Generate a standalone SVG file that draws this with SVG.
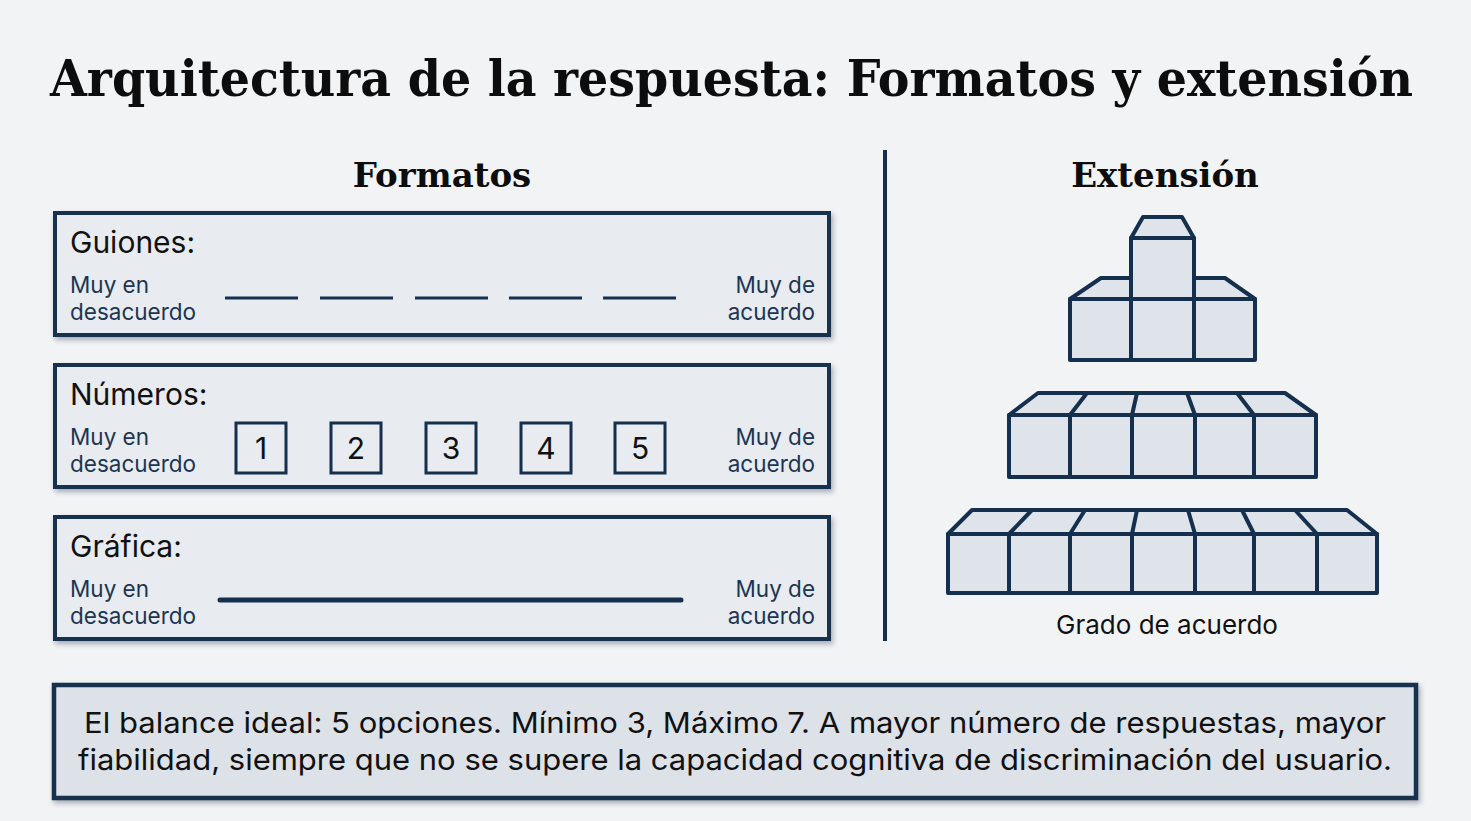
<svg xmlns="http://www.w3.org/2000/svg" width="1471" height="821" viewBox="0 0 1471 821">
<defs>
<filter id="sh" x="-5%" y="-10%" width="110%" height="130%">
<feDropShadow dx="2" dy="3" stdDeviation="2.5" flood-color="#1b2a3d" flood-opacity="0.35"/>
</filter>
<style>
.box{fill:#e8ebef;stroke:#15304f;stroke-width:4;filter:url(#sh)}
.note{fill:#dde1e8;stroke:#15304f;stroke-width:4.5;filter:url(#sh)}
.h{font-family:"DejaVu Serif","Liberation Serif",serif;font-weight:bold;fill:#0d0d0d}
.lbl{font-family:Inter,"Liberation Sans",sans-serif;font-size:30px;fill:#111}
.sm{font-family:Inter,"Liberation Sans",sans-serif;font-size:22.5px;fill:#1c3553}
.num{font-family:Inter,"Liberation Sans",sans-serif;font-size:30px;fill:#111;text-anchor:middle}
.nb{fill:none;stroke:#15304f;stroke-width:3}
.dash{stroke:#15304f;stroke-width:3}
.cube{fill:#dfe3ea;stroke:#15304f;stroke-width:4;stroke-linejoin:round}
.txt{font-family:Inter,"Liberation Sans",sans-serif;font-size:29px;fill:#111;text-anchor:middle}
</style>
</defs>
<rect width="1471" height="821" fill="#f2f3f5"/>
<text class="h" transform="translate(50,96) scale(1,1.18)" x="0" y="0" font-size="43" textLength="1363" lengthAdjust="spacingAndGlyphs">Arquitectura de la respuesta: Formatos y extensión</text>
<text class="h" x="442" y="187" font-size="34" text-anchor="middle">Formatos</text>
<text class="h" x="1165" y="187" font-size="34" text-anchor="middle">Extensión</text>
<line x1="885" y1="150" x2="885" y2="641" stroke="#15304f" stroke-width="4"/>

<g id="guiones">
<rect class="box" x="55" y="213" width="774" height="122"/>
<text class="lbl" x="70" y="253">Guiones:</text>
<text class="sm" x="70" y="293">Muy en</text>
<text class="sm" x="70" y="320">desacuerdo</text>
<text class="sm" x="815" y="293" text-anchor="end">Muy de</text>
<text class="sm" x="815" y="320" text-anchor="end">acuerdo</text>
<line class="dash" x1="225" y1="298" x2="298" y2="298"/>
<line class="dash" x1="320" y1="298" x2="393" y2="298"/>
<line class="dash" x1="415" y1="298" x2="488" y2="298"/>
<line class="dash" x1="509" y1="298" x2="582" y2="298"/>
<line class="dash" x1="603" y1="298" x2="676" y2="298"/>
</g>

<g id="numeros">
<rect class="box" x="55" y="365" width="774" height="122"/>
<text class="lbl" x="70" y="405">Números:</text>
<text class="sm" x="70" y="445">Muy en</text>
<text class="sm" x="70" y="472">desacuerdo</text>
<text class="sm" x="815" y="445" text-anchor="end">Muy de</text>
<text class="sm" x="815" y="472" text-anchor="end">acuerdo</text>
<rect class="nb" x="236" y="423" width="50" height="50"/>
<rect class="nb" x="331" y="423" width="50" height="50"/>
<rect class="nb" x="426" y="423" width="50" height="50"/>
<rect class="nb" x="521" y="423" width="50" height="50"/>
<rect class="nb" x="615" y="423" width="50" height="50"/>
<text class="num" x="261" y="459">1</text>
<text class="num" x="356" y="459">2</text>
<text class="num" x="451" y="459">3</text>
<text class="num" x="546" y="459">4</text>
<text class="num" x="640" y="459">5</text>
</g>

<g id="grafica">
<rect class="box" x="55" y="517" width="774" height="122"/>
<text class="lbl" x="70" y="557">Gráfica:</text>
<text class="sm" x="70" y="597">Muy en</text>
<text class="sm" x="70" y="624">desacuerdo</text>
<text class="sm" x="815" y="597" text-anchor="end">Muy de</text>
<text class="sm" x="815" y="624" text-anchor="end">acuerdo</text>
<line x1="220" y1="600" x2="681" y2="600" stroke="#15304f" stroke-width="5" stroke-linecap="round"/>
</g>

<g id="piramide">
<polygon class="cube" points="1131,238 1143,217 1182,217 1194,238"/>
<rect class="cube" x="1131" y="238" width="63" height="61"/>
<polygon class="cube" points="1070,299 1101,278 1131,278 1131,299"/>
<polygon class="cube" points="1194,299 1194,278 1225,278 1255,299"/>
<rect class="cube" x="1070" y="299" width="61" height="61"/>
<rect class="cube" x="1131" y="299" width="63" height="61"/>
<rect class="cube" x="1194" y="299" width="61" height="61"/>
<polygon class="cube" points="1009,415 1038,393 1285,393 1316,415"/>
<line class="cube" x1="1070" y1="415" x2="1087" y2="393"/>
<line class="cube" x1="1132" y1="415" x2="1137" y2="393"/>
<line class="cube" x1="1195" y1="415" x2="1187" y2="393"/>
<line class="cube" x1="1254" y1="415" x2="1237" y2="393"/>
<rect class="cube" x="1009" y="415" width="307" height="62"/>
<line class="cube" x1="1070" y1="415" x2="1070" y2="477"/>
<line class="cube" x1="1132" y1="415" x2="1132" y2="477"/>
<line class="cube" x1="1195" y1="415" x2="1195" y2="477"/>
<line class="cube" x1="1254" y1="415" x2="1254" y2="477"/>
<polygon class="cube" points="948,534 972,510 1347,510 1377,534"/>
<line class="cube" x1="1009" y1="534" x2="1032" y2="510"/>
<line class="cube" x1="1070" y1="534" x2="1085" y2="510"/>
<line class="cube" x1="1132" y1="534" x2="1137" y2="510"/>
<line class="cube" x1="1195" y1="534" x2="1188" y2="510"/>
<line class="cube" x1="1254" y1="534" x2="1242" y2="510"/>
<line class="cube" x1="1317" y1="534" x2="1295" y2="510"/>
<rect class="cube" x="948" y="534" width="429" height="59"/>
<line class="cube" x1="1009" y1="534" x2="1009" y2="593"/>
<line class="cube" x1="1070" y1="534" x2="1070" y2="593"/>
<line class="cube" x1="1132" y1="534" x2="1132" y2="593"/>
<line class="cube" x1="1195" y1="534" x2="1195" y2="593"/>
<line class="cube" x1="1254" y1="534" x2="1254" y2="593"/>
<line class="cube" x1="1317" y1="534" x2="1317" y2="593"/>
<text x="1167" y="634" font-family="Inter,'Liberation Sans',sans-serif" font-size="26" fill="#111" text-anchor="middle">Grado de acuerdo</text>
</g>

<g id="nota">
<rect class="note" x="54" y="685" width="1362" height="113"/>
<text class="txt" x="735" y="733" textLength="1302" lengthAdjust="spacingAndGlyphs">El balance ideal: 5 opciones. Mínimo 3, Máximo 7. A mayor número de respuestas, mayor</text>
<text class="txt" x="735" y="770" textLength="1314" lengthAdjust="spacingAndGlyphs">fiabilidad, siempre que no se supere la capacidad cognitiva de discriminación del usuario.</text>
</g>
</svg>
